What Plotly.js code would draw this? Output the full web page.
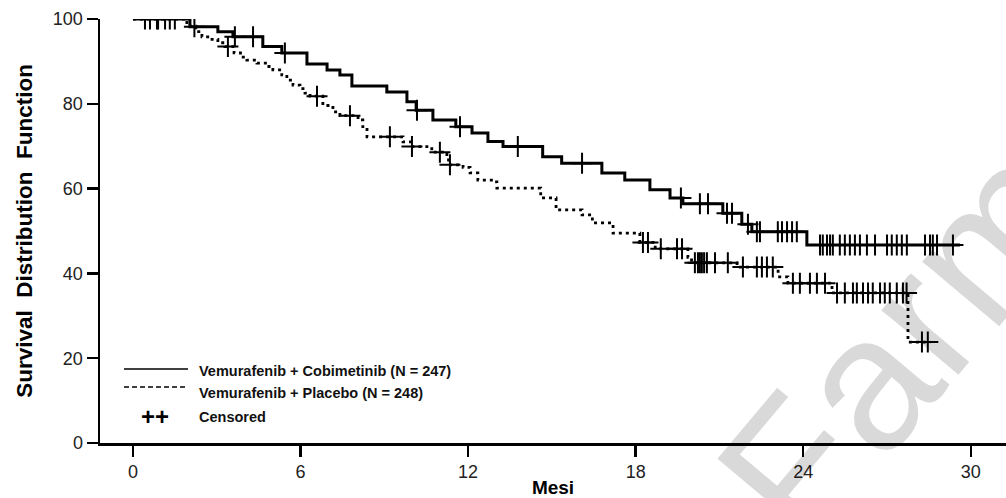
<!DOCTYPE html>
<html>
<head>
<meta charset="utf-8">
<script src="https://cdn.plot.ly/plotly-3.0.1.min.js"></script>
<style>
  html, body { margin: 0; padding: 0; background: #ffffff; }
  #chart { width: 1006px; height: 498px; }
</style>
</head>
<body>
<div id="chart"></div>
<script>
// ---- Data ----
// Vemurafenib + Cobimetinib: step times (months) and survival (%)
var coboTimes = [0, 2.04, 3.04, 3.58, 4.65, 5.33, 6.23, 6.95, 7.41, 7.84, 9.09, 9.81, 10.14, 10.74, 11.56, 12.14, 12.71, 13.25, 14.67, 15.35, 16.79, 17.61, 18.51, 19.23, 19.69, 21.12, 21.80, 22.16, 24.13, 29.61];
var coboSurv  = [100, 98.2, 97.0, 95.8, 93.5, 92.0, 89.4, 88.0, 86.8, 84.2, 82.8, 80.5, 78.5, 76.2, 74.6, 73.1, 71.1, 69.9, 67.5, 66.0, 63.7, 62.0, 59.7, 57.8, 56.4, 54.2, 51.6, 49.8, 46.7, 46.7];
var coboCensored = [0.43, 0.61, 0.86, 0.90, 1.15, 1.32, 1.50, 2.20, 3.65, 4.30, 5.44, 10.17, 11.71, 13.78, 16.08, 19.62, 20.30, 20.59, 21.27, 21.45, 22.02, 22.34, 22.45, 23.09, 23.24, 23.42, 23.60, 23.77, 24.60, 24.70, 24.85, 24.96, 25.06, 25.31, 25.49, 25.67, 25.85, 26.03, 26.28, 26.57, 27.00, 27.17, 27.35, 27.53, 27.71, 28.36, 28.54, 28.64, 28.79, 29.36];

// Vemurafenib + Placebo
var placTimes = [0, 1.93, 2.25, 2.47, 2.76, 3.04, 3.29, 3.62, 3.85, 4.08, 4.44, 4.80, 5.01, 5.33, 5.51, 5.73, 5.98, 6.16, 6.34, 6.80, 7.16, 7.41, 8.06, 8.23, 8.38, 9.67, 9.95, 10.70, 11.24, 11.30, 11.82, 12.07, 12.35, 12.90, 13.03, 14.60, 15.15, 16.08, 16.45, 17.19, 18.15, 18.70, 19.87, 20.00, 21.63, 23.10, 23.45, 25.03, 27.75, 28.55];
var placSurv  = [100, 98.3, 97.0, 95.8, 95.2, 94.4, 93.5, 92.0, 91.0, 90.3, 89.6, 88.8, 88.0, 86.8, 85.6, 84.4, 83.6, 82.5, 81.8, 79.6, 78.1, 77.2, 76.2, 74.6, 72.2, 71.0, 69.9, 68.6, 67.3, 65.6, 65.0, 63.7, 62.0, 61.6, 60.1, 57.8, 55.0, 53.8, 51.9, 49.5, 47.3, 45.8, 43.8, 42.5, 41.5, 39.2, 37.7, 35.4, 23.8, 23.8];
var placCensored = [3.40, 6.59, 7.77, 9.20, 9.99, 10.99, 11.35, 18.26, 18.44, 18.90, 19.48, 19.66, 20.12, 20.23, 20.30, 20.37, 20.45, 20.55, 20.84, 21.30, 21.84, 22.34, 22.52, 22.70, 22.91, 23.63, 23.88, 24.24, 24.49, 24.78, 25.21, 25.49, 25.78, 25.92, 26.14, 26.32, 26.49, 26.75, 26.92, 27.10, 27.35, 27.57, 27.70, 28.25, 28.46];

var xTicks = [0, 6, 12, 18, 24, 30];
var yTicks = [0, 20, 40, 60, 80, 100];

var seriesNames = ["Vemurafenib + Cobimetinib (N = 247)", "Vemurafenib + Placebo (N = 248)", "Censored"];

// step-function lookup for censor marks
function survAt(times, surv, t) {
  var v = surv[0];
  for (var i = 0; i < times.length; i++) { if (times[i] <= t) v = surv[i]; }
  return v;
}
var coboCensY = coboCensored.map(function (t) { return survAt(coboTimes, coboSurv, t); });
var placCensY = placCensored.map(function (t) { return survAt(placTimes, placSurv, t); });

var FONT = "Liberation Sans, Arial, sans-serif";

var traces = [
  { x: placTimes, y: placSurv, type: "scatter", mode: "lines", line: { shape: "hv", color: "#000", width: 2.8, dash: "3px,4px" }, name: seriesNames[1], hoverinfo: "skip" },
  { x: coboTimes, y: coboSurv, type: "scatter", mode: "lines", line: { shape: "hv", color: "#000", width: 3 }, name: seriesNames[0], hoverinfo: "skip" },
  { x: placCensored, y: placCensY, type: "scatter", mode: "markers", marker: { symbol: "cross-thin", size: 15, line: { width: 2, color: "#000" } }, name: seriesNames[2], hoverinfo: "skip" },
  { x: coboCensored, y: coboCensY, type: "scatter", mode: "markers", marker: { symbol: "cross-thin", size: 15, line: { width: 2, color: "#000" } }, name: seriesNames[2], hoverinfo: "skip" }
];

var layout = {
  width: 1006, height: 498,
  margin: { l: 100, r: 0, t: 19, b: 55 },
  paper_bgcolor: "#fff", plot_bgcolor: "#fff",
  showlegend: false,
  font: { family: FONT, color: "#111" },
  xaxis: {
    range: [-1.18, 31.26], tickvals: xTicks, ticktext: xTicks.map(String),
    showgrid: false, zeroline: false, showline: true, linecolor: "#000", linewidth: 2.5,
    ticks: "outside", ticklen: 11, tickwidth: 2.5, tickcolor: "#000",
    tickfont: { size: 18, family: FONT, color: "#222" },
    title: { text: "<b>Mesi</b>", font: { size: 19, family: FONT, color: "#000" }, standoff: 4 }
  },
  yaxis: {
    range: [0, 100], tickvals: yTicks, ticktext: yTicks.map(String),
    showgrid: false, zeroline: false, showline: true, linecolor: "#000", linewidth: 2.5,
    ticks: "outside", ticklen: 11, tickwidth: 2.5, tickcolor: "#000",
    tickfont: { size: 18, family: FONT, color: "#222" },
    title: { text: "<b>Survival  Distribution  Function</b>", font: { size: 22.5, family: FONT, color: "#000" }, standoff: 14 }
  },
  shapes: [
    { type: "line", xref: "paper", yref: "paper", x0: (124 - 100) / 906, x1: (188 - 100) / 906, y0: (443 - 369) / 424, y1: (443 - 369) / 424, line: { color: "#000", width: 1.5 } },
    { type: "line", xref: "paper", yref: "paper", x0: (124 - 100) / 906, x1: (188 - 100) / 906, y0: (443 - 387) / 424, y1: (443 - 387) / 424, line: { color: "#000", width: 1.5, dash: "5px,3px" } }
  ],
  annotations: [
    { text: "Farmaco", xref: "paper", yref: "paper", x: (998 - 100) / 906, y: (443 - 225) / 424, xanchor: "center", yanchor: "middle", textangle: -50, showarrow: false, font: { size: 190, family: FONT, color: "rgba(0,0,0,0.15)" } },
    { text: "<b>" + seriesNames[0] + "</b>", xref: "paper", yref: "paper", x: (197 - 100) / 906, y: (443 - 371) / 424, xanchor: "left", yanchor: "middle", showarrow: false, font: { size: 14.5, family: FONT, color: "#111" } },
    { text: "<b>" + seriesNames[1] + "</b>", xref: "paper", yref: "paper", x: (197 - 100) / 906, y: (443 - 393) / 424, xanchor: "left", yanchor: "middle", showarrow: false, font: { size: 14.5, family: FONT, color: "#111" } },
    { text: "<b>" + seriesNames[2] + "</b>", xref: "paper", yref: "paper", x: (197 - 100) / 906, y: (443 - 417) / 424, xanchor: "left", yanchor: "middle", showarrow: false, font: { size: 14.5, family: FONT, color: "#111" } },
    { text: "<b>++</b>", xref: "paper", yref: "paper", x: (155 - 100) / 906, y: (443 - 416) / 424, xanchor: "center", yanchor: "middle", showarrow: false, font: { size: 24, family: FONT, color: "#000" } }
  ]
};

Plotly.newPlot("chart", traces, layout, { displayModeBar: false, staticPlot: true });
</script>
</body>
</html>
